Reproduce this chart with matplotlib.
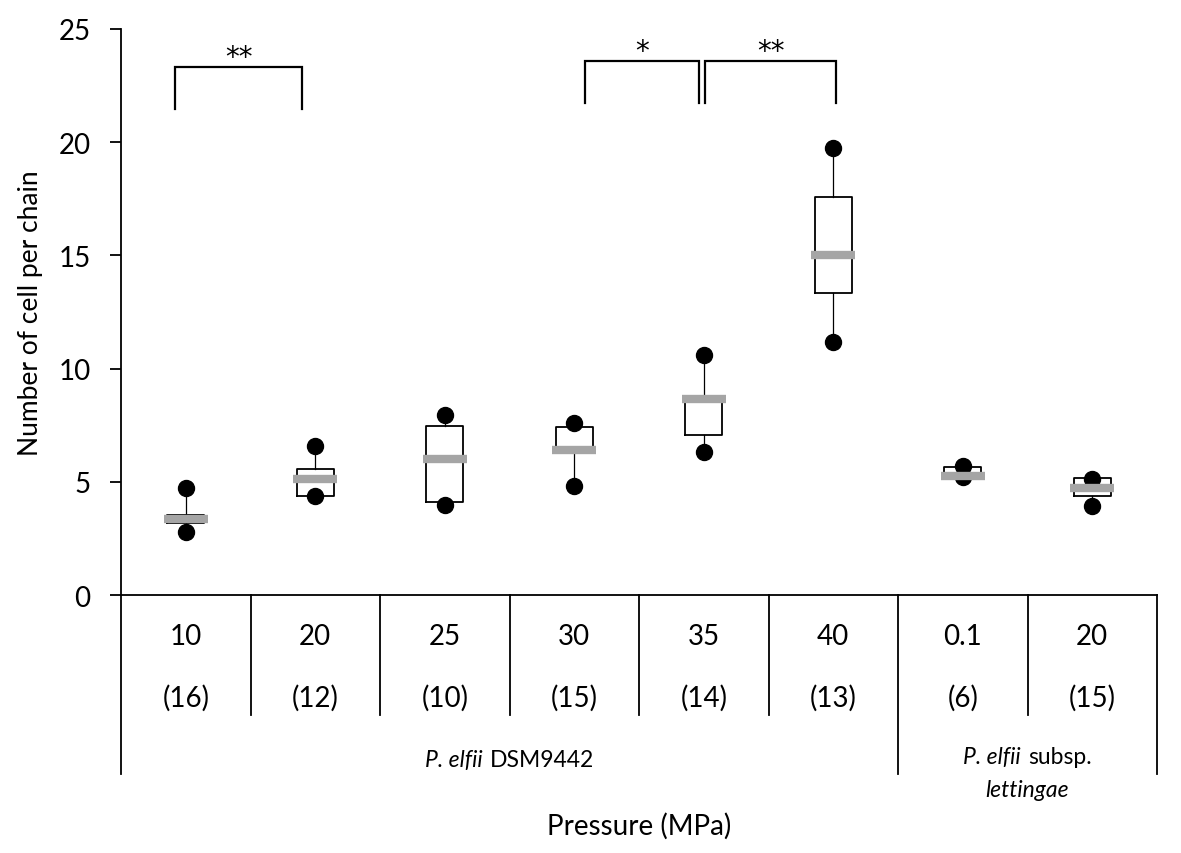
import matplotlib
matplotlib.use("Agg")
import matplotlib.pyplot as plt
from matplotlib.offsetbox import TextArea, HPacker, AnnotationBbox

plt.rcParams['font.family'] = ['Lato', 'DejaVu Sans']

# values
pressure = ['10', '20', '25', '30', '35', '40', '0.1', '20']
counts = ['(16)', '(12)', '(10)', '(15)', '(14)', '(13)', '(6)', '(15)']
whis_hi = [4.73, 6.58, 7.96, 7.58, 10.6, 19.73, 5.68, 5.12]
q3 = [3.55, 5.58, 7.48, 7.40, 8.66, 17.6, 5.67, 5.15]
median = [3.36, 5.12, 5.99, 6.39, 8.66, 15.03, 5.24, 4.74]
q1 = [3.17, 4.39, 4.09, 6.39, 7.08, 13.33, 5.22, 4.36]
whis_lo = [2.77, 4.37, 3.99, 4.80, 6.30, 11.16, 5.22, 3.95]

# significance brackets: (left, right, top, bottom, label)
brackets = [(-0.08, 0.90, 23.32, 21.47, '**'),
            (3.08, 3.96, 23.59, 21.73, '*'),
            (4.01, 5.02, 23.59, 21.73, '**')]

fig = plt.figure(figsize=(11.81, 8.54), dpi=100)
ax = fig.add_axes([0.1025, 0.3021, 0.8772, 0.6628])

pos = list(range(len(pressure)))
stats = []
for i in pos:
    stats.append(dict(med=median[i], q1=q1[i], q3=q3[i],
                      whislo=whis_lo[i], whishi=whis_hi[i], fliers=[]))

ax.bxp(stats, positions=pos, widths=0.285, showcaps=False, showfliers=False,
       boxprops=dict(color='black', linewidth=1.3),
       whiskerprops=dict(color='black', linewidth=0.9),
       medianprops=dict(visible=False), manage_ticks=False)

ax.plot(pos, whis_hi, 'o', color='black', markersize=11.5, zorder=4)
ax.plot(pos, whis_lo, 'o', color='black', markersize=11.5, zorder=4)
ax.hlines(median, [p - 0.17 for p in pos], [p + 0.17 for p in pos],
          color='#a5a5a5', linewidth=6, zorder=5)

for left, right, top, bottom, lab in brackets:
    ax.plot([left, left, right, right], [bottom, top, top, bottom],
            color='black', linewidth=1.6, solid_joinstyle='miter')
    ax.text((left + right) / 2, top + 0.45, lab, ha='center', va='center',
            fontsize=20, family='DejaVu Sans')

ax.set_xlim(-0.5, 7.5)
ax.set_ylim(0, 25)
ax.set_yticks([0, 5, 10, 15, 20, 25])
ax.tick_params(axis='y', direction='out', length=8, width=1.3, labelsize=20, pad=14)
ax.set_xticks([])
for s in ['top', 'right']:
    ax.spines[s].set_visible(False)
ax.spines['left'].set_linewidth(1.3)
ax.spines['bottom'].set_linewidth(1.3)
ax.set_ylabel('Number of cell per chain', fontsize=19)
ax.yaxis.set_label_coords(-0.075, 0.5)

# category table under the axis
tr = ax.get_xaxis_transform()
for i in range(len(pressure) + 1):
    x = i - 0.5
    low = -0.316 if i in (0, 6, 8) else -0.212
    ax.plot([x, x], [0, low], transform=tr, color='black', linewidth=1.3,
            clip_on=False)
for i in pos:
    ax.text(i, -0.0724, pressure[i], transform=tr, ha='center', va='center',
            fontsize=20)
    ax.text(i, -0.18, counts[i], transform=tr, ha='center', va='center',
            fontsize=20)


def mixed_label(x, y, italic, plain, size=16.5):
    # italic species name followed by upright text, centred at (x, y)
    box = HPacker(children=[TextArea(italic, textprops=dict(style='italic', fontsize=size)),
                            TextArea(plain, textprops=dict(fontsize=size))],
                  align='baseline', pad=0, sep=5)
    ab = AnnotationBbox(box, (x, y), xycoords=tr, frameon=False,
                        box_alignment=(0.5, 0.5), annotation_clip=False)
    ax.add_artist(ab)


mixed_label(2.5, -0.29, 'P. elfii', 'DSM9442')
mixed_label(6.5, -0.286, 'P. elfii', 'subsp.')
ax.text(6.5, -0.343, 'lettingae', transform=tr, ha='center', va='center',
        fontsize=16.5, style='italic')
ax.text(3.5, -0.406, 'Pressure (MPa)', transform=tr, ha='center', va='center',
        fontsize=20)

fig.savefig('out.png', dpi=100)
